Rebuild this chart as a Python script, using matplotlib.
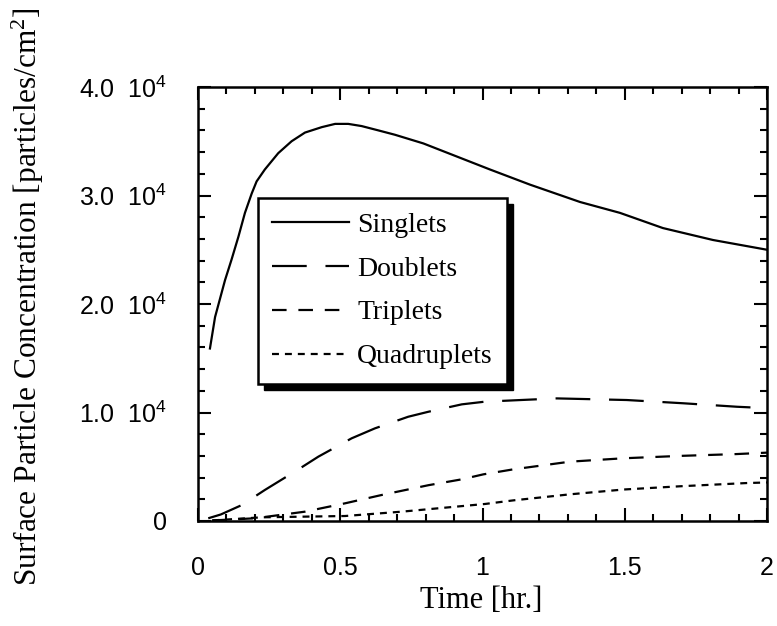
import matplotlib
matplotlib.use("Agg")
import matplotlib.pyplot as plt
from matplotlib.patches import Rectangle
from matplotlib.transforms import IdentityTransform
from matplotlib.ticker import MultipleLocator, FixedLocator

plt.rcParams['lines.scale_dashes'] = False
plt.rcParams['mathtext.default'] = 'regular'

# Data (time in hr., concentration in particles/cm^2)
t_singlets = [0.042, 0.060, 0.095, 0.118, 0.142, 0.165, 0.189, 0.206, 0.235, 0.282, 0.329,
              0.376, 0.435, 0.482, 0.528, 0.575, 0.634, 0.692, 0.792, 1.026, 1.167, 1.343,
              1.483, 1.634, 1.81, 2.0]
singlets = [15900, 18800, 22200, 24100, 26200, 28400, 30200, 31300, 32400, 33900, 35000,
            35800, 36300, 36600, 36600, 36400, 36000, 35600, 34800, 32400, 31000, 29400,
            28400, 27000, 25900, 25000]

t_doublets = [0.036, 0.08, 0.154, 0.235, 0.353, 0.423, 0.540, 0.622, 0.739, 0.81, 0.927,
              1.009, 1.261, 1.507, 1.706, 1.894, 2.0]
doublets = [250, 600, 1470, 2860, 4760, 5930, 7620, 8540, 9610, 10070, 10750,
            11000, 11300, 11150, 10850, 10530, 10400]

t_triplets = [0.05, 0.20, 0.376, 0.517, 0.646, 0.81, 0.927, 1.003, 1.108, 1.308, 1.495,
              1.694, 1.894, 2.0]
triplets = [50, 250, 860, 1630, 2400, 3300, 3840, 4300, 4760, 5470, 5780,
            6000, 6170, 6300]

t_quads = [0.05, 0.224, 0.517, 0.716, 1.009, 1.108, 1.308, 1.495, 1.694, 1.93, 2.0]
quads = [50, 340, 460, 860, 1570, 1900, 2460, 2900, 3200, 3500, 3550]

labels = ['Singlets', 'Doublets', 'Triplets', 'Quadruplets']
xticks = [0, 0.5, 1, 1.5, 2]
xticklabels = ['0', '0.5', '1', '1.5', '2']
yticks = [0, 10000, 20000, 30000, 40000]
yticklabels = ['0', '1.0  10$^4$', '2.0  10$^4$', '3.0  10$^4$', '4.0  10$^4$']

fig = plt.figure(figsize=(7.77, 6.26), dpi=100)
ax = fig.add_axes([198/777, 1-521/626, 569/777, 434/626])

lw = 1.6
ax.plot(t_singlets, singlets, color='black', lw=lw, label=labels[0])
ax.plot(t_doublets, doublets, color='black', lw=lw, dashes=(25, 13.5), label=labels[1])
ax.plot(t_triplets, triplets, color='black', lw=lw, dashes=(10.5, 8.5), label=labels[2])
ax.plot(t_quads, quads, color='black', lw=lw, dashes=(5, 4.3), label=labels[3])

ax.set_xlim(0, 2)
ax.set_ylim(0, 40000)
ax.xaxis.set_major_locator(FixedLocator(xticks))
ax.set_xticklabels(xticklabels)
ax.xaxis.set_minor_locator(MultipleLocator(0.1))
ax.yaxis.set_major_locator(FixedLocator(yticks))
ax.set_yticklabels(yticklabels)
ax.yaxis.set_minor_locator(MultipleLocator(2000))

tick_font = 'Liberation Sans'
ax.tick_params(which='both', direction='in', top=True, right=True, width=1.5)
ax.tick_params(which='major', length=9.5, labelsize=18)
ax.tick_params(axis='y', which='major', pad=22)
ax.tick_params(axis='x', which='major', pad=25)
ax.tick_params(which='minor', length=5)
for lab in ax.get_xticklabels() + ax.get_yticklabels():
    lab.set_fontfamily(tick_font)
for sp in ax.spines.values():
    sp.set_linewidth(1.8)

serif = 'Liberation Serif'
fig.text(481/777, 1-600/626, 'Time [hr.]', fontfamily=serif, fontsize=22,
         ha='center', va='center')
fig.text(28/777, 1-297/626, 'Surface Particle Concentration [particles/cm$^2$]',
         fontfamily=serif, fontsize=22.6, rotation=90, ha='center', va='center')

leg = ax.legend(loc='upper left', bbox_to_anchor=((258-198)/569, (521-198)/434),
                borderaxespad=0, fancybox=False, frameon=True, framealpha=1,
                edgecolor='black', prop={'family': serif, 'size': 20},
                handlelength=2.75, handletextpad=0.3, labelspacing=0.66,
                borderpad=0.52)
leg.get_frame().set_linewidth(1.8)
leg.set_zorder(5)

fig.canvas.draw()
bb = leg.get_frame().get_window_extent()
shadow = Rectangle((bb.x0 + 6, bb.y0 - 6), bb.width, bb.height, transform=IdentityTransform(),
                   facecolor='black', edgecolor='black', zorder=4.9, clip_on=False)
ax.add_artist(shadow)

fig.savefig('out.png', dpi=100)
